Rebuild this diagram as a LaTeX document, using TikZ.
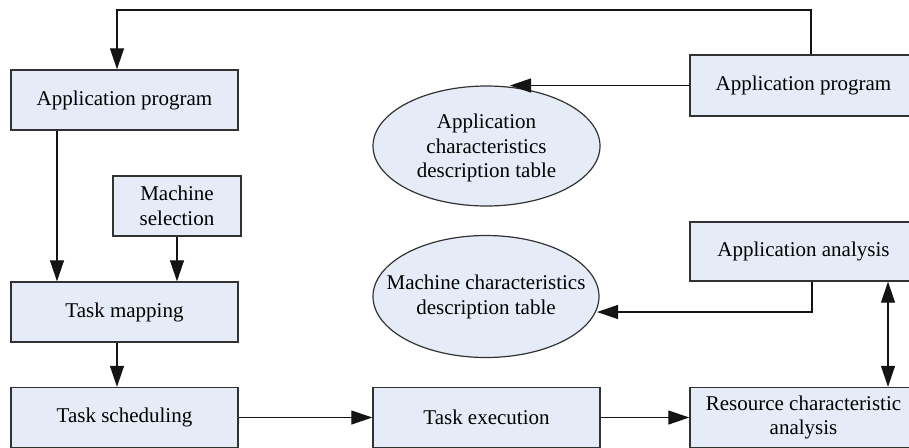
\documentclass[tikz,border=0pt]{standalone}
\usepackage{fontspec}
\setmainfont{Liberation Serif}
\usetikzlibrary{arrows.meta,shapes.geometric}
\definecolor{boxfill}{RGB}{230,236,247}
\definecolor{boxline}{RGB}{50,50,50}
\definecolor{conn}{RGB}{20,20,20}
\begin{document}
\begin{tikzpicture}[x=0.5pt,y=-0.5pt,
  every node/.style={font=\fontsize{10.5}{12.3}\selectfont},
  box/.style={draw=boxline,line width=0.7pt,fill=boxfill,rectangle,inner sep=0pt,
    minimum width=113.5pt,minimum height=30pt,align=center},
  ellshape/.style={draw=boxline,line width=0.6pt,fill=boxfill},
  elltext/.style={inner sep=0pt,align=center},
  arr/.style={draw=conn,line width=0.6pt,-{Triangle[length=10.5pt,width=7pt]}},
  darr/.style={draw=conn,line width=0.6pt,{Triangle[length=10.5pt,width=7pt]}-{Triangle[length=10.5pt,width=7pt]}}]
\useasboundingbox (0,0) rectangle (909,447);
\clip (0,0) rectangle (909,447);

% nodes
\node[box] (ap1) at (124.5,100) {Application program};
\node[box,minimum height=30.5pt] (ap2) at (803.5,85.5) {Application program};
\node[box,minimum width=64pt] (ms) at (177,206) {Machine\\selection};
\node[box] (tm) at (124.5,312) {Task mapping};
\node[box] (ts) at (124.5,417.5) {Task scheduling};
\node[box] (te) at (486.5,417.5) {Task execution};
\node[box] (rc) at (803.5,417.5) {Resource characteristic\\analysis};
\node[box,minimum height=29.5pt] (aa) at (803.5,251.5) {Application analysis};

\path[ellshape] (486.5,146) ellipse [x radius=56.75pt, y radius=30pt];
\node[elltext] (e1) at (486.5,148) {Application\\characteristics\\description table};
\path[ellshape] (486,296.5) ellipse [x radius=56.5pt, y radius=30.5pt];
\node[elltext] (e2) at (486,297) {Machine characteristics\\description table};

% helper coordinates
\coordinate (cA) at (811,10);
\coordinate (cB) at (117,10);
\coordinate (cE1) at (510,0);
\coordinate (cL) at (57,0);
\coordinate (cT) at (117,0);
\coordinate (cR) at (812,0);
\coordinate (cD) at (888,0);
\coordinate (e2r) at (597,312);

% connectors
\draw[arr] (ap2.north -| cA) -- (cA) -- (cB) -- (ap1.north -| cB);
\draw[arr] (ap2.west) -- (ap2.west -| cE1);
\draw[arr] (ap1.south -| cL) -- (tm.north -| cL);
\draw[arr] (ms.south) -- (ms.south |- tm.north);
\draw[arr] (tm.south -| cT) -- (ts.north -| cT);
\draw[arr] (ts.east) -- (te.west);
\draw[arr] (te.east) -- (rc.west);
\draw[arr] (aa.south -| cR) |- (e2r);
\draw[darr] (aa.south -| cD) -- (rc.north -| cD);
\end{tikzpicture}
\end{document}
